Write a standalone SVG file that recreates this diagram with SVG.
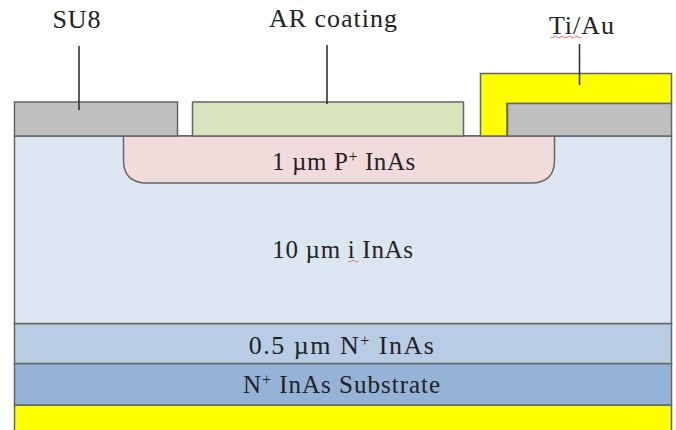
<svg xmlns="http://www.w3.org/2000/svg" width="676" height="430" viewBox="0 0 676 430">
<style>
.l{stroke:#666;stroke-width:1.5}
.c{stroke:#333;stroke-width:1.6;fill:none}
.w{fill:none;stroke:#e06060;stroke-width:.9}
text{font-family:"Liberation Serif","Times New Roman",serif;fill:#222;text-anchor:middle}
.t{font-size:26px;letter-spacing:1px}
.m{font-size:25px;letter-spacing:.6px}
.n{font-size:26px;letter-spacing:1.5px}
.b{font-size:25px;letter-spacing:1px}
.s{font-size:16px}
</style>
<rect width="676" height="430" fill="#fff"/>
<g id="contact-bottom"><rect class="l" x="14.500" y="405" width="657" height="26" fill="#ffff00"/></g>
<g id="substrate"><rect class="l" x="14.500" y="363.500" width="657" height="41.500" fill="#95b3d7"/><text class="b" x="342" y="393">N<tspan class="s" dy="-8">+</tspan><tspan dy="8"> InAs Substrate</tspan></text></g>
<g id="n-layer"><rect class="l" x="14.500" y="323.500" width="657" height="40" fill="#b8cce4"/><text class="n" x="342" y="354">0.5 µm N<tspan class="s" dy="-8">+</tspan><tspan dy="8"> InAs</tspan></text></g>
<g id="i-layer"><rect class="l" x="14.500" y="136" width="657" height="187.500" fill="#dce6f1"/><text class="m" x="343" y="258" style="letter-spacing:.7px">10 µm i InAs</text><path class="w" d="M348 261q2 2 3.500 0t3.500 0t3.500 0" /></g>
<g id="p-layer"><path class="l" d="M123.500 136H554.500V160Q554.500 183 531 183H147Q123.500 183 123.500 160Z" fill="#f2dcdb"/><text class="m" x="344" y="170">1 µm P<tspan class="s" dy="-8">+</tspan><tspan dy="8"> InAs</tspan></text></g>
<g id="su8-left"><rect class="l" x="14.500" y="102" width="163" height="34" fill="#bfbfbf"/><text class="t" x="77" y="28">SU8</text></g>
<g id="ar-coating"><rect class="l" x="192.500" y="102" width="271" height="34" fill="#d8e4bc"/><text class="t" x="333.500" y="27">AR coating</text></g>
<g id="ti-au"><path class="l" d="M480.500 136V73.500H671.500V103.500H507V136Z" fill="#ffff00"/><text class="t" x="582" y="34">Ti/Au</text><path class="w" d="M550 37q2 2 3.500 0t3.500 0t3.500 0t3.500 0t3.500 0t3.500 0t3.500 0t3.500 0t3.500 0" /></g>
<g id="su8-right"><rect class="l" x="507.500" y="103.500" width="164" height="32.500" fill="#bfbfbf"/></g>
<g id="connectors"><line class="c" x1="79" y1="46" x2="79" y2="110"/><line class="c" x1="327" y1="45" x2="327" y2="104"/><line class="c" x1="579.500" y1="44" x2="579.500" y2="85"/></g>
</svg>
